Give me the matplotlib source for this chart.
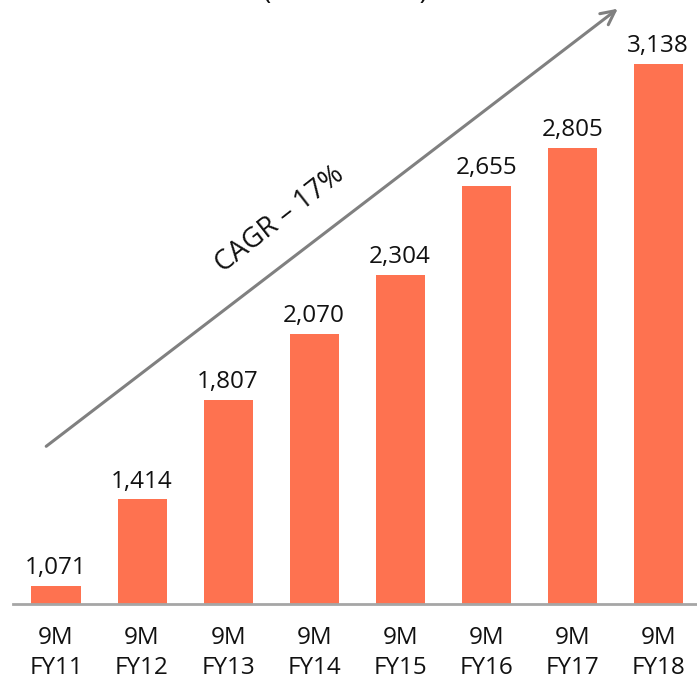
import matplotlib.pyplot as plt

# 9M revenue by fiscal year
periods = ['9M\nFY11', '9M\nFY12', '9M\nFY13', '9M\nFY14',
           '9M\nFY15', '9M\nFY16', '9M\nFY17', '9M\nFY18']
values = [1071, 1414, 1807, 2070, 2304, 2655, 2805, 3138]
value_labels = ['1,071', '1,414', '1,807', '2,070', '2,304', '2,655', '2,805', '3,138']
cagr_text = 'CAGR \u2013 17%'
unit_text = '(Rs. in Crore)'

plt.rcParams['font.family'] = ['Open Sans', 'DejaVu Sans']

W, H = 697, 685
fig = plt.figure(figsize=(W / 100, H / 100), dpi=100)

# axes: left edge at 13px, bottom at 604px, top at figure top
ax = fig.add_axes([13 / W, (H - 604) / H, (W - 13) / W, 604 / H])
x = list(range(len(values)))
ax.bar(x, values, width=0.57, color='#FE7250', zorder=2)
ax.set_xlim(-0.5, 7.45)
ax.set_ylim(1000, 1000 + 604 / 0.2526)

for xi, v, lab in zip(x, values, value_labels):
    ax.text(xi, v + 70, lab, ha='center', va='center', fontsize=17.5, color='#111111')

# category labels under the axis (two lines, bottom one clipped by the edge)
for xi, lab in zip(x, periods):
    top, bottom = lab.split('\n')
    ax.text(xi, 1000 - 34 / 0.2526, top, ha='center', va='center', fontsize=17.5,
            color='#111111')
    ax.text(xi, 1000 - 64 / 0.2526, bottom, ha='center', va='center', fontsize=17.5,
            color='#111111')

for s in ['top', 'right', 'left']:
    ax.spines[s].set_visible(False)
ax.spines['bottom'].set_color('#A6A6A6')
ax.spines['bottom'].set_linewidth(2)
ax.set_xticks([])
ax.set_yticks([])

# growth arrow (figure pixel coords, origin bottom-left)
ax.annotate('', xy=(620, H - 7), xytext=(44, H - 448),
            xycoords='figure pixels', textcoords='figure pixels',
            arrowprops=dict(arrowstyle='->,head_length=1.0,head_width=0.5',
                            color='#808080', lw=2.2))
fig.text(280 / W, (H - 220) / H, cagr_text, rotation=38, ha='center', va='center',
         fontsize=20, color='#111111', rotation_mode='anchor')

# unit note, mostly cut off by the top edge
fig.text(345 / W, (H + 1) / H, unit_text, ha='center', va='baseline', fontsize=20,
         color='#111111')

fig.savefig('out.png', dpi=100)
